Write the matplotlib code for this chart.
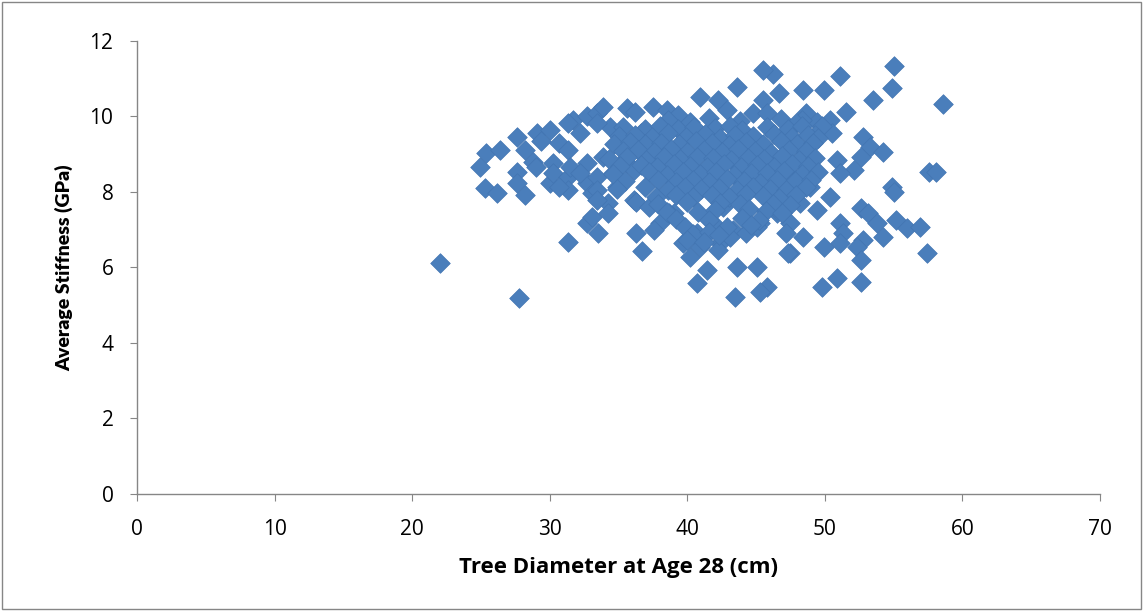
import matplotlib.pyplot as plt
from matplotlib.patches import Rectangle

# scattered points outside the main cloud
edge_x = [22.0, 27.8, 31.3, 33.5, 58.6, 55.0, 54.9, 51.1, 46.2, 45.5, 46.7, 48.4, 49.9, 53.5, 45.5, 43.6, 42.2, 40.9]
edge_y = [6.12, 5.19, 6.68, 6.91, 10.33, 11.33, 10.76, 11.08, 11.13, 11.22, 10.62, 10.70, 10.70, 10.44, 10.44, 10.78, 10.44, 10.52]

# left part of the cloud
left_x = [24.9, 25.4, 26.4, 25.3, 26.2, 27.6, 28.2, 27.6, 27.6, 28.2, 29.1, 30.0, 28.8, 30.2, 30.0, 30.2,
          31.3, 31.3, 30.7, 31.3, 31.7, 31.3, 32.7, 32.2, 33.4, 32.7, 32.7, 33.1, 32.7, 33.1, 29.4, 29.0,
          33.4, 33.4, 34.2, 34.4, 34.9, 33.9, 35.6, 34.6, 36.1, 34.9, 36.1, 33.9, 35.6, 36.2, 33.4, 35.3,
          36.6, 36.3, 36.3, 36.7, 34.2, 33.4, 31.5, 32.2, 30.7]
left_y = [8.66, 9.03, 9.11, 8.11, 7.97, 9.46, 9.11, 8.53, 8.24, 7.92, 9.56, 9.64, 8.79, 8.77, 8.24, 8.50,
          8.40, 8.05, 9.30, 9.11, 9.90, 9.83, 10.00, 9.56, 10.10, 8.77, 8.24, 7.97, 7.18, 7.34, 9.35, 8.65,
          8.40, 8.05, 7.71, 9.72, 9.30, 8.93, 8.77, 8.50, 8.58, 8.13, 7.79, 10.25, 10.22, 10.12, 9.83, 9.72,
          9.56, 7.74, 6.91, 6.43, 7.44, 7.79, 8.66, 8.50, 8.13]

# right part of the cloud
right_x = [37.5, 38.5, 39.3, 42.9, 44.8, 45.8, 48.6, 51.5, 49.4, 50.4, 50.5, 52.8, 53.3, 54.2, 52.6, 52.1,
           50.9, 51.1, 57.6, 58.1, 54.9, 55.0, 50.4, 48.9, 47.7, 52.6, 53.1, 51.1, 51.3, 53.8, 55.2, 56.0,
           56.9, 54.2, 52.8, 52.3, 51.1, 49.9, 57.4, 52.6, 50.9, 52.6, 49.8, 45.8, 47.5, 48.4, 47.5, 46.5,
           48.2, 49.4, 48.3, 49.8, 49.3]
right_y = [10.25, 10.17, 10.04, 10.17, 10.09, 10.09, 10.09, 10.12, 9.85, 9.90, 9.56, 9.46, 9.19, 9.06, 8.93, 8.58,
           8.85, 8.50, 8.53, 8.53, 8.13, 8.00, 7.87, 8.13, 8.40, 7.58, 7.44, 7.18, 6.91, 7.18, 7.26, 7.05,
           7.07, 6.81, 6.73, 6.54, 6.65, 6.54, 6.38, 6.20, 5.72, 5.62, 5.48, 5.48, 6.38, 6.81, 7.18, 7.44,
           7.71, 7.52, 9.90, 9.75, 9.50]

# lower middle of the cloud
low_x = [38.0, 39.0, 39.7, 40.2, 40.9, 41.4, 40.7, 43.6, 45.1, 43.5, 45.3, 42.4, 43.3, 44.3, 45.3, 41.9,
         42.6, 38.7, 40.7, 42.2, 43.1, 45.1, 47.3, 47.2, 46.5, 37.6, 37.2]
low_y = [7.18, 7.44, 6.65, 6.28, 6.54, 5.93, 5.59, 6.01, 6.01, 5.22, 5.35, 6.65, 6.99, 6.91, 7.18, 7.18,
         7.60, 7.44, 6.91, 6.46, 6.81, 7.07, 6.38, 6.91, 7.52, 7.00, 7.60]

# dense core
core_x = [38.6, 40.2, 41.6, 43.8, 46.8, 47.9,
          36.9, 38.0, 39.3, 40.5, 42.0, 43.1, 44.0, 45.8, 47.3, 48.3,
          35.0, 36.2, 37.4, 38.6, 39.9, 41.3, 42.4, 43.5, 44.8, 46.3, 47.6, 48.8, 49.5,
          34.7, 35.8, 36.9, 38.1, 39.4, 40.6, 41.8, 43.0, 44.3, 45.5, 46.8, 48.0, 49.1,
          35.3, 36.4, 37.6, 38.8, 40.0, 41.2, 42.5, 43.7, 44.9, 46.1, 47.4, 48.6,
          34.3, 35.6, 37.0, 38.3, 39.5, 40.7, 41.9, 43.2, 44.4, 45.6, 46.9, 48.1, 49.3,
          35.1, 36.6, 37.8, 39.0, 40.2, 41.4, 42.7, 43.9, 45.1, 46.3, 47.6, 48.8,
          34.6, 37.2, 38.5, 39.7, 40.9, 42.1, 43.4, 44.6, 45.8, 47.0, 48.3, 49.5,
          35.5, 37.9, 39.2, 40.4, 41.6, 42.9, 44.1, 45.3, 46.5, 47.8, 49.0,
          34.9, 36.9, 38.6, 39.8, 41.0, 42.3, 43.6, 44.8, 46.0, 47.2, 48.6,
          37.7, 39.2, 40.4, 41.8, 43.0, 44.3, 45.5, 46.7, 47.9,
          37.9, 40.0, 42.4, 43.8, 46.2, 47.5,
          38.5, 40.8, 42.0, 44.5, 45.7, 46.9,
          39.2, 41.6, 44.0, 45.2,
          39.8, 42.9, 44.6,
          40.4, 41.6, 42.3,
          40.0, 41.2]
core_y = [9.92, 9.85, 9.95, 9.88, 9.93, 9.82,
          9.68, 9.74, 9.66, 9.72, 9.70, 9.76, 9.64, 9.71, 9.67, 9.75,
          9.48, 9.52, 9.45, 9.55, 9.47, 9.53, 9.44, 9.51, 9.49, 9.54, 9.46, 9.52, 9.43,
          9.28, 9.33, 9.26, 9.31, 9.27, 9.34, 9.29, 9.25, 9.32, 9.28, 9.35, 9.26, 9.30,
          9.08, 9.12, 9.05, 9.13, 9.07, 9.11, 9.06, 9.14, 9.09, 9.04, 9.12, 9.08,
          8.88, 8.93, 8.86, 8.92, 8.87, 8.94, 8.89, 8.85, 8.91, 8.88, 8.95, 8.86, 8.90,
          8.68, 8.72, 8.66, 8.73, 8.69, 8.65, 8.74, 8.67, 8.71, 8.66, 8.73, 8.68,
          8.48, 8.53, 8.46, 8.52, 8.47, 8.54, 8.45, 8.51, 8.49, 8.55, 8.47, 8.52,
          8.28, 8.33, 8.26, 8.31, 8.27, 8.34, 8.29, 8.25, 8.32, 8.28, 8.31,
          8.08, 8.12, 8.06, 8.13, 8.07, 8.11, 8.05, 8.14, 8.09, 8.06, 8.12,
          7.88, 7.93, 7.86, 7.92, 7.87, 7.94, 7.89, 7.85, 7.91,
          7.68, 7.73, 7.71, 7.67, 7.69, 7.65,
          7.48, 7.46, 7.52, 7.54, 7.49, 7.45,
          7.28, 7.26, 7.31, 7.27,
          7.08, 7.06, 7.13,
          6.88, 6.93, 6.86,
          6.72, 6.68]

x = edge_x + left_x + right_x + low_x + core_x
y = edge_y + left_y + right_y + low_y + core_y

plt.rcParams['font.family'] = ['Open Sans', 'DejaVu Sans']

fig = plt.figure(figsize=(11.43, 6.11), dpi=100)
ax = fig.add_axes([0.1199, 0.1915, 0.8425, 0.7414])

ax.scatter(x, y, marker='D', s=100, facecolor='#4a7ebb', edgecolor='#4275b2', linewidth=0.5, zorder=3)

ax.set_xlim(0, 70)
ax.set_ylim(0, 12)
ax.set_xticks(range(0, 71, 10))
ax.set_yticks(range(0, 13, 2))

for s in ['top', 'right']:
    ax.spines[s].set_visible(False)
for s in ['left', 'bottom']:
    ax.spines[s].set_color('#868686')
    ax.spines[s].set_linewidth(1.0)
ax.tick_params(axis='both', direction='out', length=5, color='#868686', labelsize=15, labelcolor='black')
ax.tick_params(axis='x', pad=13)
ax.tick_params(axis='y', pad=12)

ax.set_xlabel('Tree Diameter at Age 28 (cm)', fontsize=16, fontweight='bold', labelpad=12)
ax.set_ylabel('Average Stiffness (GPa)', fontsize=14, fontweight='heavy', labelpad=12,
              family=['Lato', 'DejaVu Sans'])

fig.patches.append(Rectangle((0.002, 0.003), 0.996, 0.994, transform=fig.transFigure,
                             fill=False, edgecolor='#868686', linewidth=1.0))

fig.savefig('out.png', dpi=100)
